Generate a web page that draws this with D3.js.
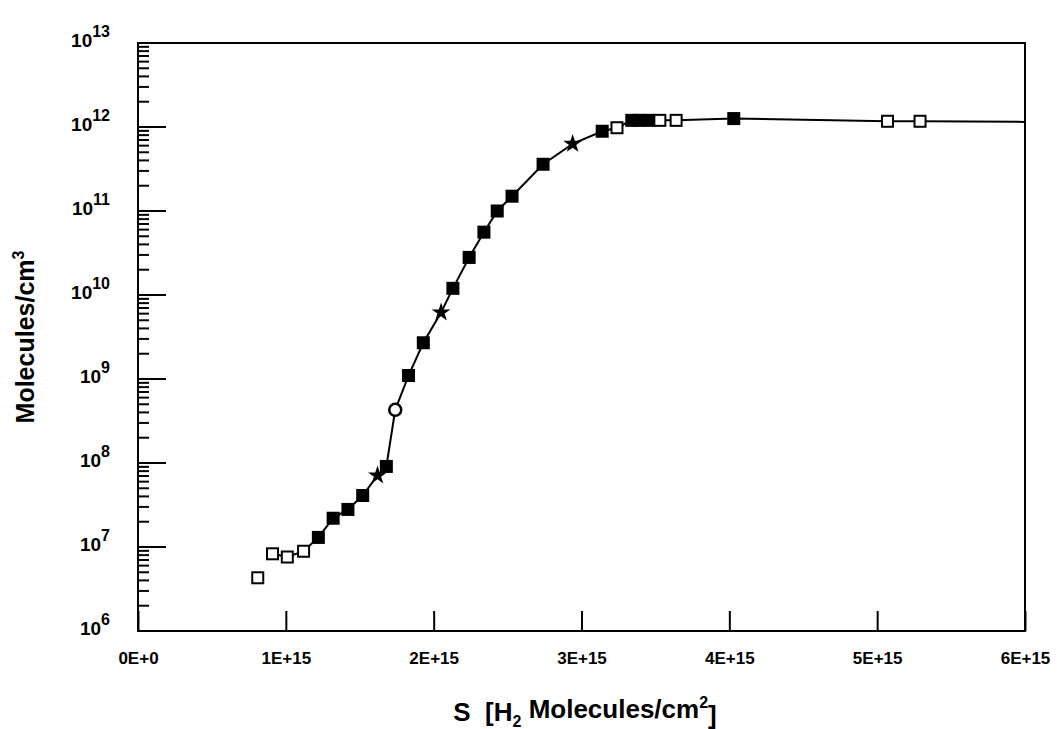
<!DOCTYPE html>
<html>
<head>
<meta charset="utf-8">
<script src="https://cdn.jsdelivr.net/npm/d3@7"></script>
<style>
  body { margin: 0; background: #fff; }
  text { font-family: "Liberation Sans", Arial, sans-serif; font-weight: bold; fill: #000; }
</style>
</head>
<body>
<div id="chart"></div>
<script>
// column density S (H2 molecules/cm^2)
const sValues = [0.81e15, 0.91e15, 1.01e15, 1.12e15, 1.22e15, 1.32e15, 1.42e15, 1.52e15,
    1.62e15, 1.68e15, 1.74e15, 1.83e15, 1.93e15, 2.05e15, 2.13e15, 2.24e15, 2.34e15,
    2.43e15, 2.53e15, 2.74e15, 2.94e15, 3.14e15, 3.24e15, 3.34e15, 3.39e15, 3.45e15,
    3.53e15, 3.64e15, 4.03e15, 5.07e15, 5.29e15, 6.0e15];
// molecules/cm^3
const densities = [4.3e6, 8.3e6, 7.6e6, 8.9e6, 1.3e7, 2.2e7, 2.8e7, 4.1e7,
    7.1e7, 9.1e7, 4.3e8, 1.1e9, 2.7e9, 6.2e9, 1.2e10, 2.8e10, 5.6e10,
    1.0e11, 1.5e11, 3.6e11, 6.3e11, 8.9e11, 9.8e11, 1.2e12, 1.2e12, 1.2e12,
    1.2e12, 1.2e12, 1.26e12, 1.17e12, 1.17e12, 1.15e12];
// marker type of each point
const markers = ["open", "open", "open", "open", "filled", "filled", "filled", "filled",
    "star", "filled", "circle", "filled", "filled", "star", "filled", "filled", "filled",
    "filled", "filled", "filled", "star", "filled", "open", "filled", "filled", "filled",
    "open", "open", "filled", "open", "open", "none"];
const xTicks = [0, 1e15, 2e15, 3e15, 4e15, 5e15, 6e15];
const xTickLabels = ["0E+0", "1E+15", "2E+15", "3E+15", "4E+15", "5E+15", "6E+15"];
const yTicks = [1e6, 1e7, 1e8, 1e9, 1e10, 1e11, 1e12, 1e13];

const width = 1058, height = 729;
const margin = {top: 43, right: 33, bottom: 98, left: 138};

const svg = d3.select('#chart')
    .append('svg')
    .attr('width', width)
    .attr('height', height);

const x = d3.scaleLinear()
    .domain([0, 6e15])
    .range([margin.left, width - margin.right]);
const y = d3.scaleLog()
    .domain([1e6, 1e13])
    .range([height - margin.bottom, margin.top]);

// frame
svg.append("rect")
    .attr("x", x(0)).attr("y", y(1e13))
    .attr("width", x(6e15) - x(0))
    .attr("height", y(1e6) - y(1e13))
    .attr("fill", "none")
    .attr("stroke", "#000")
    .attr("stroke-width", 2);

// bottom axis, ticks pointing inward
const xAxis = d3.axisBottom(x)
    .tickValues(xTicks)
    .tickSize(-20)
    .tickFormat((d, i) => xTickLabels[i]);
const gx = svg.append("g")
    .attr("transform", `translate(0,${y(1e6)})`)
    .call(xAxis);
gx.select(".domain").remove();
gx.selectAll(".tick line").attr("stroke-width", 2);
gx.selectAll(".tick text")
    .attr("y", 21)
    .attr("dy", "0.71em")
    .style("font-size", "17px");

// left axis: major and minor log ticks inward
const minorTicks = [];
for (let e = 6; e < 13; e++) {
    for (let m = 2; m <= 9; m++) minorTicks.push(m * Math.pow(10, e));
}
svg.append("g").selectAll("line")
    .data(minorTicks)
    .enter().append("line")
    .attr("x1", x(0)).attr("x2", x(0) + 11)
    .attr("y1", d => y(d)).attr("y2", d => y(d))
    .attr("stroke", "#000").attr("stroke-width", 2);
svg.append("g").selectAll("line")
    .data(yTicks.slice(1, -1))
    .enter().append("line")
    .attr("x1", x(0)).attr("x2", x(0) + 28)
    .attr("y1", d => y(d)).attr("y2", d => y(d))
    .attr("stroke", "#000").attr("stroke-width", 2);

const yLabels = svg.append("g").selectAll("text")
    .data(yTicks)
    .enter().append("text")
    .attr("x", 110)
    .attr("y", d => y(d) + 4)
    .attr("text-anchor", "end")
    .style("font-size", "19px");
yLabels.append("tspan").text("10");
yLabels.append("tspan")
    .attr("dy", "-0.65em")
    .style("font-size", "16px")
    .text(d => Math.round(Math.log10(d)));

// curve
const line = d3.line()
    .x(i => x(sValues[i]))
    .y(i => y(densities[i]));
svg.append("path")
    .datum(d3.range(1, sValues.length))
    .attr("d", line)
    .attr("fill", "none")
    .attr("stroke", "#000")
    .attr("stroke-width", 2);

// markers
const pts = svg.append("g").selectAll("g")
    .data(d3.range(sValues.length).filter(i => markers[i] !== "none"))
    .enter().append("g")
    .attr("transform", i => `translate(${x(sValues[i])},${y(densities[i])})`);
pts.filter(i => markers[i] === "open" || markers[i] === "filled")
    .append("rect")
    .attr("x", -5.5).attr("y", -5.5)
    .attr("width", 11).attr("height", 11)
    .attr("fill", i => markers[i] === "filled" ? "#000" : "#fff")
    .attr("stroke", "#000")
    .attr("stroke-width", 2);
pts.filter(i => markers[i] === "circle")
    .append("circle")
    .attr("r", 6)
    .attr("fill", "#fff")
    .attr("stroke", "#000")
    .attr("stroke-width", 2.5);
pts.filter(i => markers[i] === "star")
    .append("path")
    .attr("d", d3.symbol(d3.symbolStar, 110))
    .attr("fill", "#000");

// axis titles
svg.append("text")
    .attr("transform", `translate(34,${(y(1e6) + y(1e13)) / 2}) rotate(-90)`)
    .attr("text-anchor", "middle")
    .style("font-size", "25px")
    .html('Molecules/cm<tspan dy="-0.6em" font-size="16px">3</tspan>');

svg.append("text")
    .attr("x", 585)
    .attr("y", 721)
    .attr("text-anchor", "middle")
    .style("font-size", "26px")
    .html('S&#160;&#160;[H<tspan dy="0.35em" font-size="16px">2</tspan><tspan dy="-0.35em"> Molecules/cm</tspan><tspan dy="-0.6em" font-size="16px">2</tspan><tspan dy="0.6em">]</tspan>');
</script>
</body>
</html>
